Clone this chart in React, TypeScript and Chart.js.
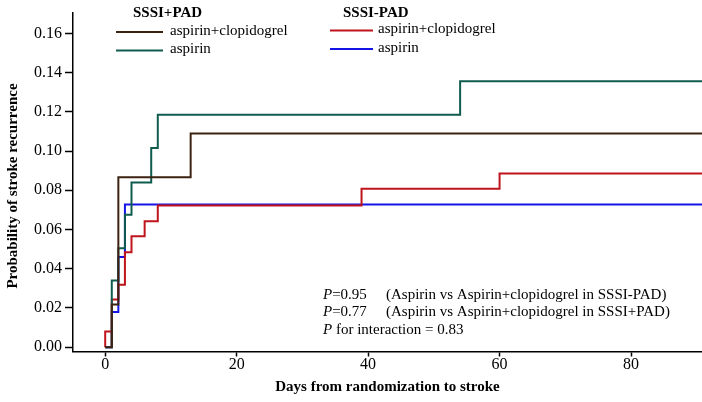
import { useEffect, useRef } from "react";
import { Chart, registerables, type Plugin } from "chart.js";

Chart.register(...registerables);

// SSSI+PAD
const PLUS_DUAL_DAYS = [0, 1, 2, 13, 91];
const PLUS_DUAL_RISK = [0, 0.0218, 0.0866, 0.109, 0.109];
const PLUS_MONO_DAYS = [0, 1, 2, 3, 4, 7, 8, 54, 91];
const PLUS_MONO_RISK = [0, 0.034, 0.0505, 0.0675, 0.084, 0.1016, 0.1185, 0.1356, 0.1356];
// SSSI-PAD
const MINUS_DUAL_DAYS = [0, 0, 1, 1, 2, 3, 4, 6, 8, 39, 60, 91];
const MINUS_DUAL_RISK = [0, 0.008, 0, 0.0243, 0.0318, 0.0484, 0.0566, 0.0642, 0.0722, 0.0808, 0.0885, 0.0885];
const MINUS_MONO_DAYS = [0, 1, 2, 3, 91];
const MINUS_MONO_RISK = [0, 0.018, 0.046, 0.0728, 0.0728];

const X_TICKS = [0, 20, 40, 60, 80];
const Y_TICKS = [0, 0.02, 0.04, 0.06, 0.08, 0.1, 0.12, 0.14, 0.16];

const BROWN = "#3d2211";
const TEAL = "#0f5c4e";
const RED = "#c0141c";
const BLUE = "#1414e6";

const SERIF = "'Liberation Serif', 'Times New Roman', serif";
const Y_TITLE = "Probability of stroke recurrence";

const LEGEND_GROUPS = [
  {
    title: "SSSI+PAD",
    titleX: 133,
    lineX: 116,
    lineW: 47,
    textX: 170,
    rowY: [32, 50.5],
    items: [
      { label: "aspirin+clopidogrel", color: BROWN },
      { label: "aspirin", color: TEAL },
    ],
  },
  {
    title: "SSSI-PAD",
    titleX: 343,
    lineX: 330,
    lineW: 43,
    textX: 378,
    rowY: [30.5, 49],
    items: [
      { label: "aspirin+clopidogrel", color: RED },
      { label: "aspirin", color: BLUE },
    ],
  },
];

const NOTES = [
  { p: "P", rest: "=0.95", tail: "(Aspirin vs Aspirin+clopidogrel in SSSI-PAD)" },
  { p: "P", rest: "=0.77", tail: "(Aspirin vs Aspirin+clopidogrel in SSSI+PAD)" },
  { p: "P", rest: " for interaction = 0.83", tail: "" },
];

function toPoints(days: number[], risk: number[]) {
  return days.map((d, i) => ({ x: d, y: risk[i] }));
}

/** Grouped legend, y title and p-value notes, drawn over the plot. */
const overlayPlugin: Plugin<"line"> = {
  id: "groupLegend",
  afterDraw(chart) {
    const { ctx } = chart;
    ctx.save();
    ctx.textBaseline = "middle";
    ctx.fillStyle = "#000";
    for (const g of LEGEND_GROUPS) {
      ctx.font = `bold 15px ${SERIF}`;
      ctx.fillText(g.title, g.titleX, 13);
      g.items.forEach((item, i) => {
        const y = g.rowY[i];
        ctx.strokeStyle = item.color;
        ctx.lineWidth = 2;
        ctx.beginPath();
        ctx.moveTo(g.lineX, y);
        ctx.lineTo(g.lineX + g.lineW, y);
        ctx.stroke();
        ctx.font = `15px ${SERIF}`;
        ctx.fillText(item.label, g.textX, y - 1);
      });
    }
    NOTES.forEach((n, i) => {
      const y = 295 + i * 17.5;
      ctx.font = `italic 15px ${SERIF}`;
      ctx.fillText(n.p, 323, y);
      const w = ctx.measureText(n.p).width;
      ctx.font = `15px ${SERIF}`;
      ctx.fillText(n.rest, 323 + w, y);
      if (n.tail) ctx.fillText(n.tail, 386, y);
    });
    // y title sits a little below the plot's middle in the original
    ctx.translate(13, 186);
    ctx.rotate(-Math.PI / 2);
    ctx.textAlign = "center";
    ctx.font = `bold 15px ${SERIF}`;
    ctx.fillText(Y_TITLE, 0, 0);
    ctx.restore();
  },
};

export default function App() {
  const canvasRef = useRef<HTMLCanvasElement>(null);
  useEffect(() => {
    document.body.style.margin = "0";
    const canvas = canvasRef.current;
    if (!canvas) return;
    const line = (data: { x: number; y: number }[], color: string) => ({
      data,
      borderColor: color,
      backgroundColor: color,
      borderWidth: 2,
      pointRadius: 0,
      stepped: true as const,
      fill: false,
    });
    const chart = new Chart(canvas, {
      type: "line",
      data: {
        datasets: [
          line(toPoints(PLUS_DUAL_DAYS, PLUS_DUAL_RISK), BROWN),
          line(toPoints(PLUS_MONO_DAYS, PLUS_MONO_RISK), TEAL),
          line(toPoints(MINUS_DUAL_DAYS, MINUS_DUAL_RISK), RED),
          line(toPoints(MINUS_MONO_DAYS, MINUS_MONO_RISK), BLUE),
        ],
      },
      options: {
        animation: false,
        responsive: true,
        maintainAspectRatio: false,
        layout: { padding: { top: 5, right: 0, left: 0, bottom: 0 } },
        plugins: { legend: { display: false }, tooltip: { enabled: false } },
        scales: {
          x: {
            type: "linear",
            min: -4.9,
            max: 90.8,
            afterBuildTicks: (s) => {
              s.ticks = X_TICKS.map((value) => ({ value }));
            },
            afterFit: (s) => {
              s.height = 50.5;
            },
            grid: { drawOnChartArea: false, drawTicks: true, tickLength: 5, tickWidth: 1.5, tickColor: "#000" },
            border: { display: true, color: "#000", width: 1.5 },
            ticks: {
              color: "#000",
              padding: -1,
              maxRotation: 0,
              font: { family: SERIF, size: 16 },
              callback: (v) => String(v),
            },
            title: {
              display: true,
              text: "Days from randomization to stroke",
              color: "#000",
              font: { family: SERIF, size: 15, weight: "bold" },
              padding: { top: 0, bottom: 6 },
            },
          },
          y: {
            type: "linear",
            min: -0.0022,
            max: 0.1706,
            afterBuildTicks: (s) => {
              s.ticks = Y_TICKS.map((value) => ({ value }));
            },
            afterFit: (s) => {
              s.width = 73;
            },
            grid: { drawOnChartArea: false, drawTicks: true, tickLength: 8, tickWidth: 1.5, tickColor: "#000" },
            border: { display: true, color: "#000", width: 1.5 },
            ticks: {
              color: "#000",
              padding: 3,
              font: { family: SERIF, size: 16 },
              callback: (v) => Number(v).toFixed(2),
            },
          },
        },
      },
      plugins: [overlayPlugin],
    });
    return () => chart.destroy();
  }, []);
  return (
    <div style={{ position: "fixed", left: 0, top: 0, width: 702, height: 402 }}>
      <canvas ref={canvasRef} />
    </div>
  );
}
